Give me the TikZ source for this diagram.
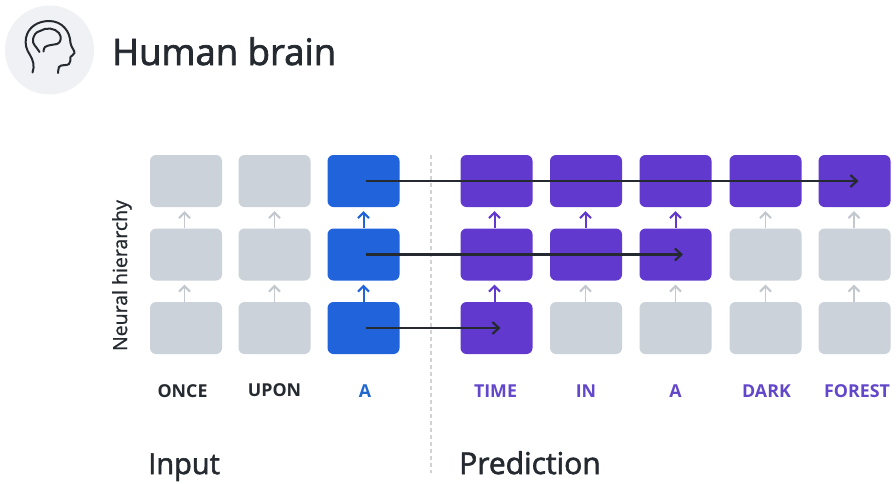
\documentclass[tikz,border=0pt]{standalone}
\usepackage{fontspec}
\setmainfont{Open Sans}
\newfontfamily\headfont[FakeBold=2]{Open Sans}
\newfontfamily\axisfont[FakeBold=1]{Open Sans}
\usetikzlibrary{arrows.meta}
\definecolor{bluebox}{HTML}{2163DA}
\definecolor{purplebox}{HTML}{6239CF}
\definecolor{greybox}{HTML}{CBD2D9}
\definecolor{greyarrow}{HTML}{C2C8CE}
\definecolor{badgefill}{HTML}{F0F1F4}
\definecolor{ink}{HTML}{252A30}
\definecolor{wordblue}{HTML}{2068CF}
\definecolor{wordpurple}{HTML}{6347CB}
\tikzset{
  cell/.style={rounded corners=6pt,minimum width=72pt,minimum height=52pt,inner sep=0pt,draw=none},
  greycell/.style={cell,fill=greybox},
  bluecell/.style={cell,fill=bluebox},
  purplecell/.style={cell,fill=purplebox},
  up/.style={line width=2pt,-{Straight Barb[length=5.5pt,width=11pt,line width=2pt]},shorten >=4pt},
  upgrey/.style={up,draw=greyarrow,line width=1.8pt},
  upblue/.style={up,draw=bluebox},
  uppurple/.style={up,draw=purplebox},
  flow/.style={line width=2.2pt,draw=ink,-{Straight Barb[length=6.5pt,width=12pt,line width=2.2pt]}},
  word/.style={font=\bfseries\fontsize{17.8}{22}\selectfont,inner sep=0pt,anchor=base},
  heading/.style={text=ink,inner sep=0pt,anchor=base west},
}
\begin{document}
\begin{tikzpicture}[x=1pt,y=-1pt]
\useasboundingbox (0,0) rectangle (896,483);
\fill[white] (0,0) rectangle (896,483);
\node[circle,fill=badgefill,minimum size=89pt,inner sep=0pt] (badge) at (49.5,50) {};
\draw[ink,line width=2pt,line cap=round,line join=round]
  (32.5,72.5) .. controls (35,66) and (33,60) .. (30,55)
  .. controls (26,49) and (25,44) .. (26,38)
  .. controls (28,27) and (38,21) .. (49,21)
  .. controls (62,21) and (70,31) .. (70.5,43)
  .. controls (71,47) and (75,51) .. (74.5,53)
  .. controls (74,55) and (71,55.5) .. (70.5,57)
  .. controls (70,60) and (71,62) .. (69,64)
  .. controls (67,66) and (61,64) .. (59,67)
  .. controls (58,69) and (58.5,71) .. (58,73);
\draw[ink,line width=2pt,line cap=round,line join=round]
  (39.5,52) .. controls (36,46) and (32,44) .. (33,39)
  .. controls (34,36) and (35,32) .. (40,31)
  .. controls (46,27) and (55,28) .. (59,33)
  .. controls (62,37) and (61,43) .. (57,44)
  .. controls (52,45) and (48,45) .. (45,47)
  .. controls (44,48) and (43.5,50) .. (43.5,51.5);
\node[heading,font=\headfont\fontsize{36.5}{42}\selectfont] (title) at (112,65) {Human brain};

\foreach \n/\x/\st/\mt/\bt in {
  1/186/greycell/greycell/greycell,
  2/274.5/greycell/greycell/greycell,
  3/363.5/bluecell/bluecell/bluecell,
  4/496.5/purplecell/purplecell/purplecell,
  5/586/purplecell/purplecell/greycell,
  6/675.5/purplecell/purplecell/greycell,
  7/765.5/purplecell/greycell/greycell,
  8/854.5/purplecell/greycell/greycell}{
  \node[\st] (a\n) at (\x,181) {};
  \node[\mt] (b\n) at (\x,254.5) {};
  \node[\bt] (c\n) at (\x,328) {};
}
\coordinate (divtop) at (431,155);
\coordinate (divbot) at (431,473);
\draw[gray!35,line width=1.3pt,dash pattern=on 3.5pt off 3.5pt] (divtop) -- (divbot);

\foreach \n/\dx/\st/\mt in {1/-1.5/upgrey/upgrey,2/0/upgrey/upgrey,3/0/upblue/upblue,4/-2/uppurple/uppurple,5/-0.5/uppurple/upgrey,6/0/uppurple/upgrey,7/0/upgrey/upgrey,8/-0.5/upgrey/upgrey}{
  \draw[\st] ([xshift=\dx pt]b\n.north) -- ([xshift=\dx pt]a\n.south);
  \draw[\mt] ([xshift=\dx pt]c\n.north) -- ([xshift=\dx pt]b\n.south);
}
\draw[flow] ([xshift=2.5pt]c3.center) -- ([xshift=4pt]c4.center);
\draw[flow] ([xshift=2.5pt]b3.center) -- ([xshift=7.5pt]b6.center);
\draw[flow] ([xshift=2.5pt]a3.center) -- ([xshift=4pt]a8.center);

\node[word,text=ink] (w1) at (182.5,397) {ONCE};
\node[word,text=ink] (w2) at (274.5,396.5) {UPON};
\node[word,text=wordblue] (w3) at (365,397.5) {A};
\node[word,text=wordpurple] (w4) at (495.5,397.5) {TIME};
\node[word,text=wordpurple] (w5) at (586,397.5) {IN};
\node[word,text=wordpurple] (w6) at (675.5,397.5) {A};
\node[word,text=wordpurple] (w7) at (766.5,397.5) {DARK};
\node[word,text=wordpurple] (w8) at (857,397) {FOREST};

\node[heading,font=\headfont\fontsize{29}{34}\selectfont] (input) at (148,474) {Input};
\node[heading,font=\headfont\fontsize{30}{34}\selectfont] (prediction) at (459,474) {Prediction};
\node[font=\axisfont\fontsize{19.5}{22}\selectfont,text=ink,rotate=90,inner sep=0pt] (axis) at (122,275.5) {Neural hierarchy};
\end{tikzpicture}
\end{document}
